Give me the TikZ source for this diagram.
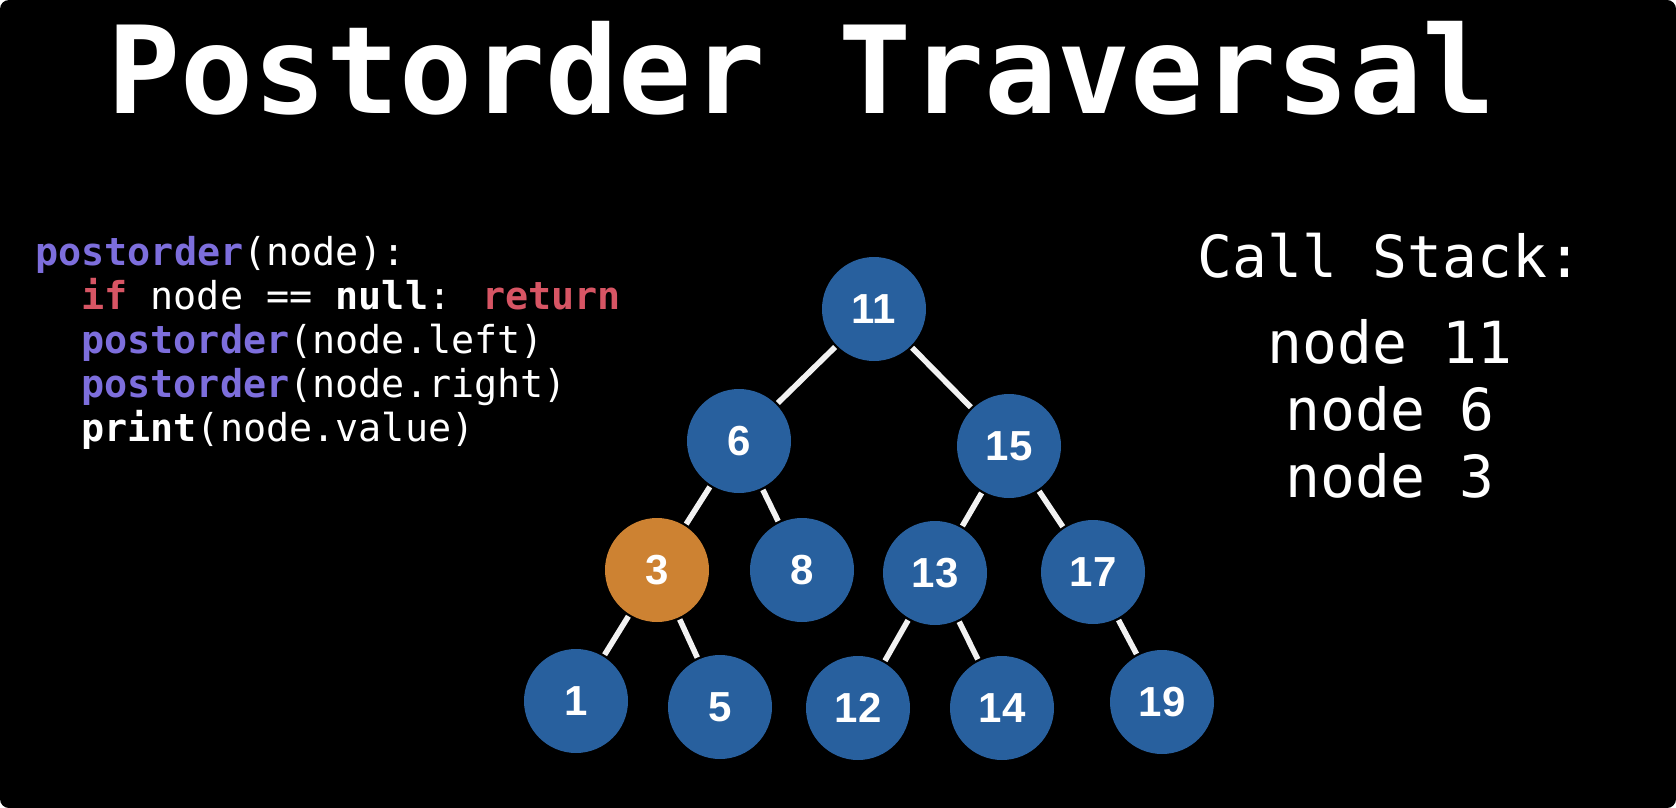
\documentclass[tikz,border=0pt]{standalone}
\usepackage{fontspec}
\setmainfont{Liberation Sans}
\newfontfamily\codefont{DejaVu Sans Mono}
\definecolor{treeblue}{RGB}{40,96,158}
\definecolor{visitorange}{RGB}{205,130,50}
\definecolor{fnpurple}{RGB}{125,110,220}
\definecolor{kwred}{RGB}{215,85,100}
\begin{document}
\begin{tikzpicture}[x=0.5pt, y=-0.5pt,
  treenode/.style={circle, fill=treeblue, text=white, minimum size=52pt, inner sep=0pt,
    font=\fontsize{21}{21}\selectfont\bfseries},
  visited/.style={treenode, fill=visitorange},
  edge/.style={line width=2.8pt, white!95!black, shorten <=1pt, shorten >=1pt},
  codeline/.style={anchor=base west, inner sep=0pt, text=white,
    font=\codefont\fontsize{19.2}{19.2}\selectfont},
  stackline/.style={anchor=base, inner sep=0pt, text=white,
    font=\codefont\fontsize{29}{29}\selectfont}]

% Background
\fill[white] (0,0) rectangle (1676,808);
\fill[black, rounded corners=4.5pt] (0,0) rectangle (1676,808);

% Title
\node[anchor=base west, inner sep=0pt, text=white, font=\codefont\bfseries\fontsize{60.7}{60.7}\selectfont]
  (title) at (107,114) {Postorder Traversal};

% Code
\node[codeline] (line1) at (35,265) {\textcolor{fnpurple}{\bfseries postorder}(node):};
\node[codeline] (line2) at (81,309) {\textcolor{kwred}{\bfseries if} node == \textbf{null}: \textcolor{kwred}{\bfseries return}};
\node[codeline] (line3) at (81,353) {\textcolor{fnpurple}{\bfseries postorder}(node.left)};
\node[codeline] (line4) at (81,397) {\textcolor{fnpurple}{\bfseries postorder}(node.right)};
\node[codeline] (line5) at (81,441) {\textbf{print}(node.value)};

% Tree
\node[treenode] (n11) at (874,309) {11};
\node[treenode] (n6)  at (739,441) {6};
\node[treenode] (n15) at (1009,446) {15};
\node[visited]  (n3)  at (657,570) {3};
\node[treenode] (n8)  at (802,570) {8};
\node[treenode] (n13) at (935,573) {13};
\node[treenode] (n17) at (1093,572) {17};
\node[treenode] (n1)  at (576,701) {1};
\node[treenode] (n5)  at (720,707) {5};
\node[treenode] (n12) at (858,708) {12};
\node[treenode] (n14) at (1002,708) {14};
\node[treenode] (n19) at (1162,702) {19};

\draw[edge] (n11) -- (n6);
\draw[edge] (n11) -- (n15);
\draw[edge] (n6) -- (n3);
\draw[edge] (n6) -- (n8);
\draw[edge] (n15) -- (n13);
\draw[edge] (n15) -- (n17);
\draw[edge] (n3) -- (n1);
\draw[edge] (n3) -- (n5);
\draw[edge] (n13) -- (n12);
\draw[edge] (n13) -- (n14);
\draw[edge] (n17) -- (n19);

% Call stack
\node[stackline] (stack) at (1390,277) {Call Stack:};
\node[stackline] (s11) at (1390,363) {node 11};
\node[stackline] (s6)  at (1390,430) {node 6};
\node[stackline] (s3)  at (1390,497) {node 3};

\end{tikzpicture}
\end{document}
